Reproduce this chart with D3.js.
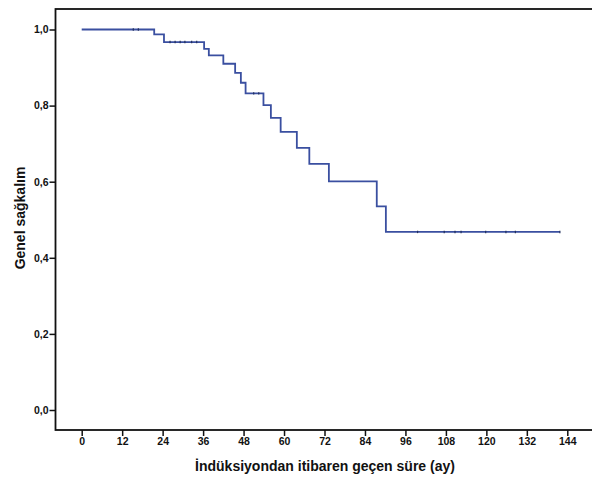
<!DOCTYPE html>
<html>
<head>
<meta charset="utf-8">
<script src="https://cdn.jsdelivr.net/npm/d3@7/dist/d3.min.js"></script>
<style>
  body { margin: 0; background: #fff; }
</style>
</head>
<body>
<script>
// Kaplan-Meier steps
let eventTimes = [0, 21.5, 24.4, 36.3, 37.7, 42, 45.5, 47.2, 48.6, 53.9, 56.1, 59, 63.8, 67.5, 73.3, 87.5, 90.2];
let survival = [1.0, 0.987, 0.967, 0.949, 0.932, 0.910, 0.886, 0.860, 0.832, 0.801, 0.768, 0.731, 0.689, 0.647, 0.601, 0.535, 0.468];
let lastTime = 141.8;
let censorTimes = [15.3, 16.8, 26.2, 27.7, 29.2, 30.6, 32.6, 34.1, 51, 52.5, 99.6, 107.5, 110.7, 112.5, 119.8, 125.8, 128.6, 141.8];
let xTicks = [0, 12, 24, 36, 48, 60, 72, 84, 96, 108, 120, 132, 144];
let yTicks = [0, 0.2, 0.4, 0.6, 0.8, 1.0];

let width = 592;
let height = 477;

let frame = {
  left: 55.5,
  right: 594,
  top: 9,
  bottom: 430,
}

let xScale = d3.scaleLinear([0, 144], [81.7, 567.3]);
let yScale = d3.scaleLinear([0, 1], [410, 29.5]);

let steps = eventTimes.map((t, i) => ({time: t, surv: survival[i]}));
steps.push({time: lastTime, surv: survival[survival.length - 1]});

let survAt = t => {
  let i = d3.bisectRight(eventTimes, t) - 1;
  return survival[Math.max(i, 0)];
};

let font = "'Liberation Sans', Arial, sans-serif";

let svg = d3.create('svg')
  .attr('width', width)
  .attr('height', height);

svg.append('rect')
  .attr('x', frame.left)
  .attr('y', frame.top)
  .attr('width', frame.right - frame.left)
  .attr('height', frame.bottom - frame.top)
  .attr('fill', 'none')
  .attr('stroke', '#111')
  .attr('stroke-width', 1.8);

let xAxis = d3.axisBottom(xScale)
  .tickValues(xTicks)
  .tickSize(6)
  .tickPadding(2)
  .tickFormat(d3.format('d'));

let yAxis = d3.axisLeft(yScale)
  .tickValues(yTicks)
  .tickSize(6)
  .tickPadding(1)
  .tickFormat(d => d3.format('.1f')(d).replace('.', ','));

svg.append('g')
  .attr('transform', `translate(0,${frame.bottom})`)
  .call(xAxis)
  .call(g => g.select('.domain').remove())
  .attr('font-family', font)
  .attr('font-size', 10.5)
  .attr('font-weight', 'bold')
  .call(g => g.selectAll('.tick line').attr('stroke', '#111').attr('stroke-width', 1.5))
  .call(g => g.selectAll('.tick text').attr('fill', '#111'));

svg.append('g')
  .attr('transform', `translate(${frame.left},0)`)
  .call(yAxis)
  .call(g => g.select('.domain').remove())
  .attr('font-family', font)
  .attr('font-size', 10.5)
  .attr('font-weight', 'bold')
  .call(g => g.selectAll('.tick line').attr('stroke', '#111').attr('stroke-width', 1.5))
  .call(g => g.selectAll('.tick text').attr('fill', '#111'));

svg.append('path')
  .datum(steps)
  .attr('d', d3.line()
    .x(d => xScale(d.time))
    .y(d => yScale(d.surv))
    .curve(d3.curveStepAfter)
  )
  .attr('stroke', '#3a4fa0')
  .attr('fill', 'none')
  .attr('stroke-width', 1.8);

// censored cases
svg.append('g')
  .selectAll('line')
  .data(censorTimes)
  .join('line')
  .attr('x1', d => xScale(d))
  .attr('x2', d => xScale(d))
  .attr('y1', d => yScale(survAt(d)) - 1.2)
  .attr('y2', d => yScale(survAt(d)) + 1.2)
  .attr('stroke', '#22305e')
  .attr('stroke-width', 1.2);

svg.append('text')
  .text('İndüksiyondan itibaren geçen süre (ay)')
  .attr('x', 325)
  .attr('y', 471)
  .attr('font-family', font)
  .attr('font-size', 14)
  .attr('font-weight', 'bold')
  .attr('text-anchor', 'middle')
  .attr('fill', '#111');

svg.append('text')
  .text('Genel sağkalım')
  .attr('transform', 'rotate(-90)')
  .attr('x', -218)
  .attr('y', 25)
  .attr('font-family', font)
  .attr('font-size', 14)
  .attr('font-weight', 'bold')
  .attr('text-anchor', 'middle')
  .attr('fill', '#111');

document.body.prepend(svg.node());
</script>
</body>
</html>
